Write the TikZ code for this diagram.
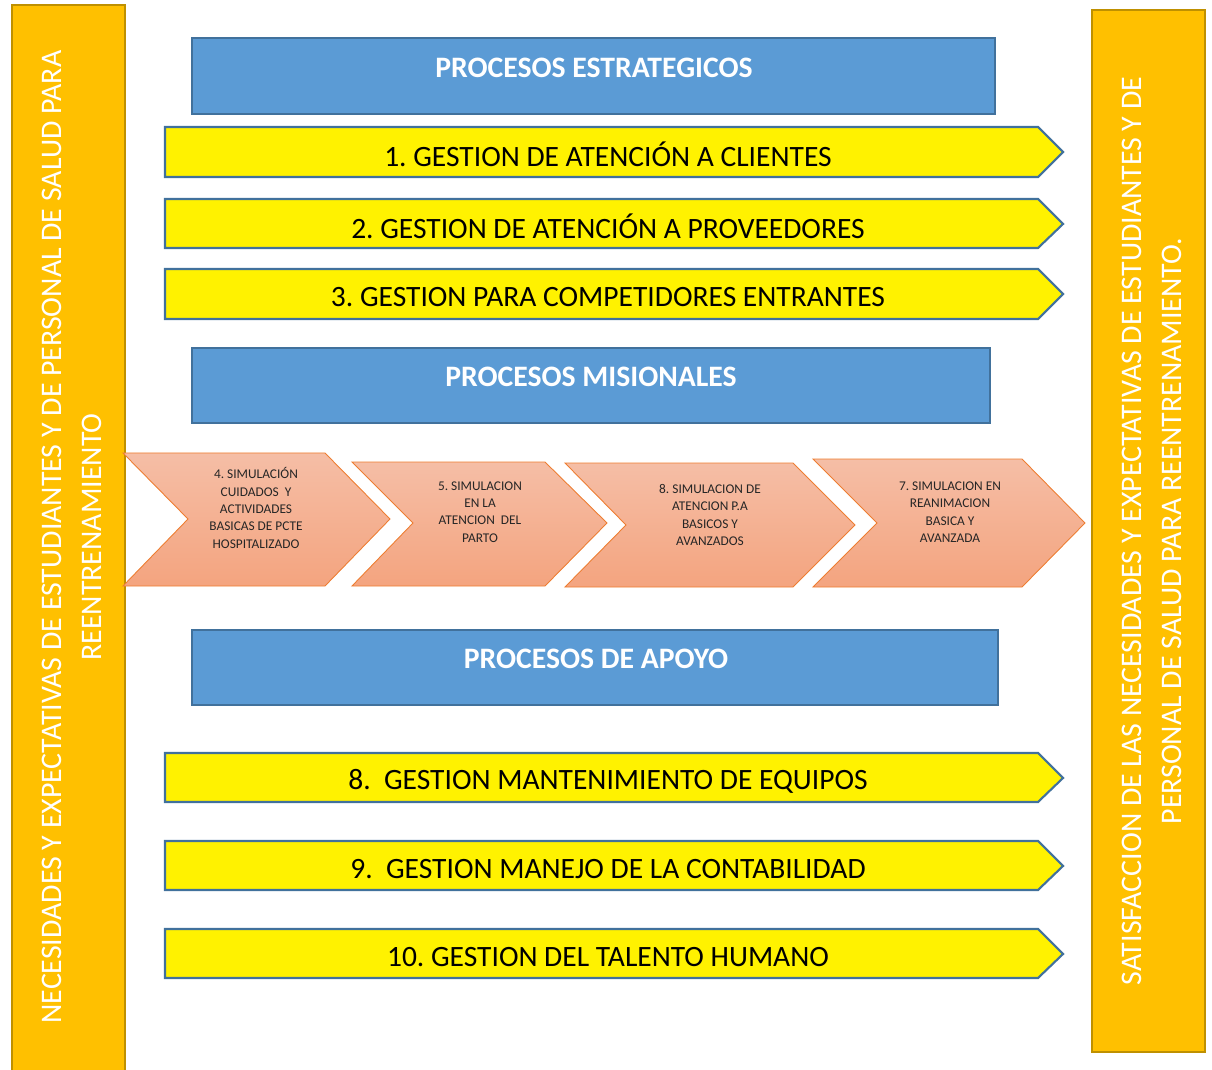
\documentclass[tikz,border=0pt]{standalone}
\usepackage{fontspec}
\setmainfont{Carlito}
\usepackage{xcolor}
\usepackage{tikz}
\usetikzlibrary{positioning}
\definecolor{barorange}{HTML}{FFC000}
\definecolor{barline}{HTML}{BF9000}
\definecolor{procblue}{HTML}{5B9BD5}
\definecolor{procline}{HTML}{41719C}
\definecolor{chevtop}{HTML}{F5BEA6}
\definecolor{chevbot}{HTML}{F4A47F}
\definecolor{chevline}{HTML}{ED7D31}
\frenchspacing

\begin{document}
\begin{tikzpicture}[
x=0.02cm, y=-0.02cm,
sidebar/.style={fill=barorange, draw=barline, line width=1.2pt},
sidetext/.style={rotate=90, text=white, align=center, font=\fontsize{17}{22.7}\selectfont},
bluebox/.style={fill=procblue, draw=procline, line width=1.2pt},
bluetext/.style={text=white, font=\fontsize{16.9}{19}\selectfont\bfseries},
yellowarrow/.style={fill=yellow, draw=procline, line width=1.2pt, line join=miter},
yellowtext/.style={text=black, font=\fontsize{16.8}{19}\selectfont},
chevron/.style={top color=chevtop, bottom color=chevbot, draw=chevline, line width=0.5pt},
chevtext/.style={text=black!85, align=center, font=\fontsize{7.6}{9.9}\selectfont},
]
\useasboundingbox (0,0) rectangle (1212,1070);

%Side bars
\fill[barorange] (12,5) rectangle (125,1070);
\draw[barline, line width=1.2pt] (12,1070) -- (12,5) -- (125,5) -- (125,1070);
\draw[sidebar] (1092,10) rectangle (1205,1052);

%Blue boxes
\draw[bluebox] (192,38) rectangle (995,114);
\draw[bluebox] (192,348) rectangle (990,423);
\draw[bluebox] (192,630) rectangle (998,705);

%Yellow arrows
\draw[yellowarrow] (165,127) -- (1038,127) -- (1063,152) -- (1038,177) -- (165,177) -- cycle;
\draw[yellowarrow] (165,199) -- (1038,199) -- (1063,224) -- (1038,248) -- (165,248) -- cycle;
\draw[yellowarrow] (165,269) -- (1038,269) -- (1063,294) -- (1038,319) -- (165,319) -- cycle;
\draw[yellowarrow] (165,753) -- (1038,753) -- (1063,778) -- (1038,802) -- (165,802) -- cycle;
\draw[yellowarrow] (165,841) -- (1038,841) -- (1063,866) -- (1038,890) -- (165,890) -- cycle;
\draw[yellowarrow] (165,929) -- (1038,929) -- (1063,954) -- (1038,978) -- (165,978) -- cycle;

%Chevrons
\draw[chevron] (123,453) -- (325,453) -- (390,519) -- (325,586) -- (123,586) -- (188,519) -- cycle;
\draw[chevron] (352,462) -- (545,462) -- (607,523) -- (545,586) -- (352,586) -- (413,523) -- cycle;
\draw[chevron] (565,463) -- (793,463) -- (855,525) -- (793,587) -- (565,587) -- (626,525) -- cycle;
\draw[chevron] (813,459) -- (1022,459) -- (1085,523) -- (1022,587) -- (813,587) -- (877,523) -- cycle;

%Nodes
\node[sidetext]		(needs)		at (72,537)		{NECESIDADES Y EXPECTATIVAS DE ESTUDIANTES Y DE PERSONAL DE SALUD PARA\\REENTRENAMIENTO};
\node[sidetext]		(satisf)	at (1152,531)	{SATISFACCION DE LAS NECESIDADES Y EXPECTATIVAS DE ESTUDIANTES Y DE\\PERSONAL DE SALUD PARA REENTRENAMIENTO.};

\node[bluetext]		(strat)		at (594,68)		{PROCESOS ESTRATEGICOS};
\node[bluetext]		(mision)	at (591,377)	{PROCESOS MISIONALES};
\node[bluetext]		(apoyo)		at (596,659)	{PROCESOS DE APOYO};

\node[yellowtext]	(clientes)	at (608,154)	{1. GESTION DE ATENCIÓN A CLIENTES};
\node[yellowtext]	(proveed)	at (608,226)	{2. GESTION DE ATENCIÓN A PROVEEDORES};
\node[yellowtext]	(competid)	at (608,297)	{3. GESTION PARA COMPETIDORES ENTRANTES};
\node[yellowtext]	(equipos)	at (608,781)	{8.~ GESTION MANTENIMIENTO DE EQUIPOS};
\node[yellowtext]	(contab)	at (608,869)	{9.~ GESTION MANEJO DE LA CONTABILIDAD};
\node[yellowtext]	(talento)	at (608,957)	{10. GESTION DEL TALENTO HUMANO};

\node[chevtext]		(cuidados)	at (256,508)	{4. SIMULACIÓN\\CUIDADOS~ Y\\ACTIVIDADES\\BASICAS DE PCTE\\HOSPITALIZADO};
\node[chevtext]		(parto)		at (480,512)	{5. SIMULACION\\EN LA\\ATENCION~ DEL\\PARTO};
\node[chevtext]		(atencion)	at (710,515)	{8. SIMULACION DE\\ATENCION P.A\\BASICOS Y\\AVANZADOS};
\node[chevtext]		(reanim)	at (950,512)	{7. SIMULACION EN\\REANIMACION\\BASICA Y\\AVANZADA};
\end{tikzpicture}
\end{document}
